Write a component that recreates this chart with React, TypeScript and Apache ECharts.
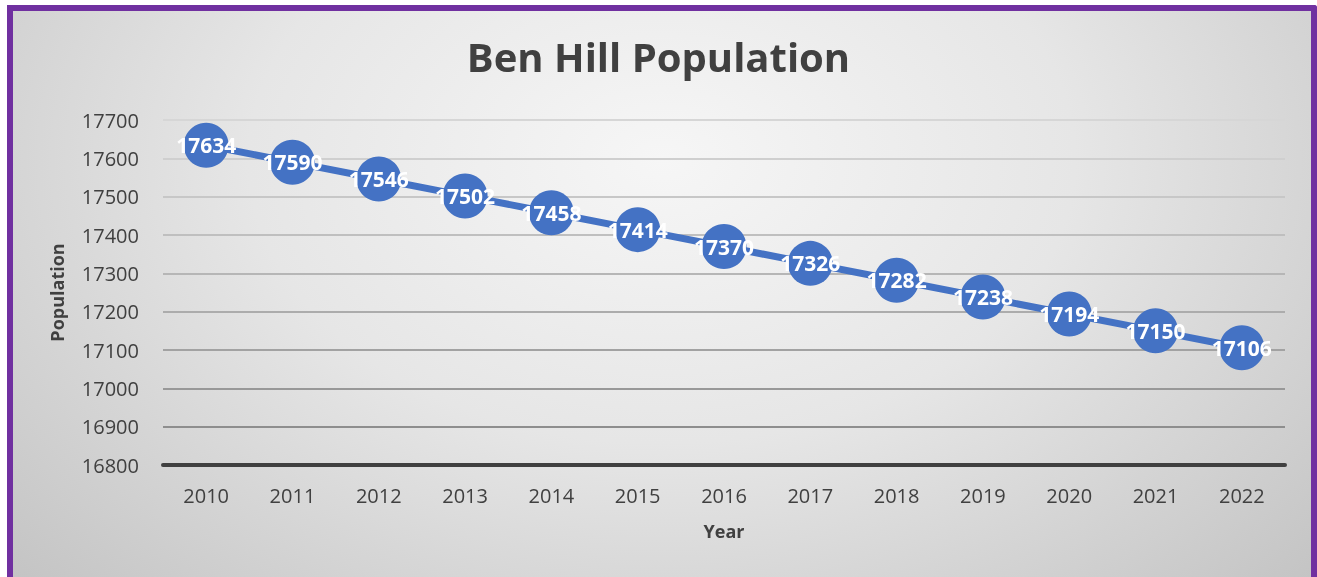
import React, { useEffect, useRef } from "react";
import * as echarts from "echarts";

const years = ["2010", "2011", "2012", "2013", "2014", "2015", "2016", "2017", "2018", "2019", "2020", "2021", "2022"];
const population = [17634, 17590, 17546, 17502, 17458, 17414, 17370, 17326, 17282, 17238, 17194, 17150, 17106];
const gridColors = ["#404040", "#8e8e8e", "#989898", "#a2a2a2", "#acacac", "#b6b6b6", "#bfbfbf", "#c7c7c7", "#cfcfcf", "#d6d6d6"];

const FONT = "'Open Sans', 'Noto Sans', sans-serif";

export default function App() {
  const ref = useRef<HTMLDivElement>(null);
  useEffect(() => {
    if (!ref.current) return;
    const chart = echarts.init(ref.current, null, { renderer: "svg" });
    chart.setOption({
      animation: false,
      backgroundColor: "transparent",
      title: {
        text: "Ben Hill Population",
        left: "center",
        top: 31,
        textStyle: { fontFamily: FONT, fontSize: 40, fontWeight: "bold", color: "#404040" },
      },
      grid: { left: 163, right: 32, top: 120, bottom: 112 },
      xAxis: {
        type: "category",
        data: years,
        boundaryGap: true,
        name: "Year",
        nameLocation: "middle",
        nameGap: 57,
        nameTextStyle: { fontFamily: FONT, fontSize: 18, fontWeight: "bold", color: "#404040" },
        axisLine: { show: true, lineStyle: { color: "#404040", width: 4 } },
        axisTick: { show: false },
        axisLabel: { fontFamily: FONT, fontSize: 20, color: "#404040", margin: 20 },
      },
      yAxis: {
        type: "value",
        min: 16800,
        max: 17700,
        interval: 100,
        name: "Population",
        nameLocation: "middle",
        nameGap: 97,
        nameTextStyle: { fontFamily: FONT, fontSize: 18, fontWeight: "bold", color: "#404040" },
        axisLine: { show: false },
        axisTick: { show: false },
        axisLabel: {
          fontFamily: FONT,
          fontSize: 20,
          color: "#404040",
          margin: 24,
          formatter: (v: number) => String(v),
        },
        splitLine: { show: true, lineStyle: { color: gridColors, width: 2 } },
      },
      series: [
        {
          type: "line",
          data: population,
          symbol: "circle",
          symbolSize: 45,
          lineStyle: { color: "#4472C4", width: 7 },
          itemStyle: { color: "#4472C4" },
          label: {
            show: true,
            position: "inside",
            fontFamily: FONT,
            fontSize: 21,
            fontWeight: "bold",
            color: "#ffffff",
          },
        },
      ],
    });
    return () => chart.dispose();
  }, []);
  return (
    <>
      <div
        style={{
          position: "fixed",
          left: 7,
          top: 5,
          width: 1310,
          height: 600,
          boxSizing: "border-box",
          border: "6px solid #7030A0",
          borderBottom: "none",
          borderTopRightRadius: 3,
          background: "radial-gradient(ellipse farthest-corner at 50% 25%, #f6f6f6 0%, #e6e6e6 45%, #c2c2c2 100%)",
        }}
      />
      <div ref={ref} style={{ position: "fixed", left: 0, top: 0, width: 1317, height: 577 }} />
    </>
  );
}
